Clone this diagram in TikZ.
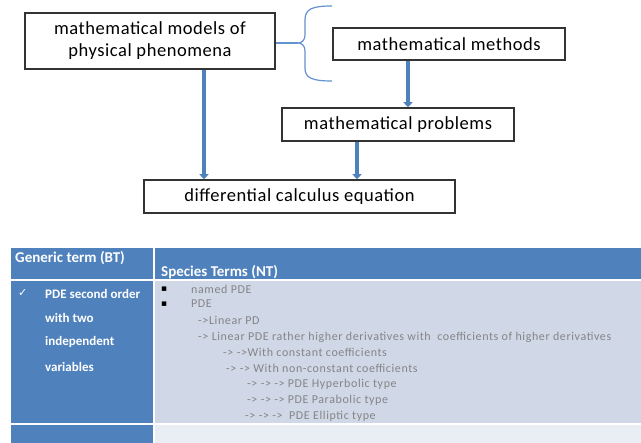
\documentclass[tikz,border=0pt]{standalone}
\usepackage{fontspec}
\setmainfont{Carlito}
\newfontfamily\boxfont[LetterSpace=3]{Carlito}
\newfontfamily\termfont[LetterSpace=5]{Carlito}
\newfontfamily\symfont{DejaVu Sans}
\usetikzlibrary{arrows.meta}
\definecolor{linkblue}{RGB}{79,129,189}
\definecolor{bracecol}{RGB}{98,146,208}
\definecolor{cellblue}{RGB}{79,129,189}
\definecolor{cellgrey}{RGB}{208,216,232}
\definecolor{cellpale}{RGB}{233,237,244}
\definecolor{termgrey}{RGB}{132,132,132}

\begin{document}
\begin{tikzpicture}[x=1pt,y=-1pt,
    concept/.style={draw=black!80,line width=1.5pt,fill=white,inner sep=0pt,align=center,font=\boxfont\fontsize{18.5}{22}\selectfont},
    link/.style={linkblue,line width=3.5pt,-{Triangle[width=9pt,length=5pt]}},
    brace/.style={bracecol,line width=1.2pt},
    head/.style={anchor=west,inner sep=0pt,text=white,font=\bfseries\fontsize{15}{17}\selectfont},
    bterm/.style={anchor=west,inner sep=0pt,text=white,font=\bfseries\fontsize{13}{15}\selectfont},
    nterm/.style={anchor=west,inner sep=0pt,text=termgrey,font=\termfont\fontsize{12}{14}\selectfont}]
    \useasboundingbox (0,0) rectangle (641,443);

    % concept boxes
    \node[concept,minimum width=250pt,minimum height=56pt] (models) at (150,41) {mathematical models of\\physical phenomena};
    \node[concept,minimum width=232pt,minimum height=32pt] (methods) at (449,44) {mathematical methods};
    \node[concept,minimum width=232pt,minimum height=33pt] (problems) at (398,124.5) {mathematical problems};
    \node[concept,minimum width=311pt,minimum height=33pt] (equation) at (299.5,196.5) {differential calculus equation};

    % brace
    \coordinate (tip) at (298,43);
    \draw[brace] (models.east |- tip) -- (tip);
    \draw[brace] (332,6) .. controls (312,6) and (305,9) .. (305,20) -- (305,35)
        .. controls (305,40) and (302,43) .. (tip)
        .. controls (302,43) and (305,46) .. (305,51) -- (305,68)
        .. controls (305,78) and (312,81) .. (332,81);

    % links
    \draw[link] (models.south -| 204,0) -- (equation.north -| 204,0);
    \draw[link] (methods.south -| 408,0) -- (problems.north -| 408,0);
    \draw[link] (problems.south -| 357,0) -- (equation.north -| 357,0);

    % table
    \fill[cellblue] (11,248) rectangle (641,279);
    \fill[cellblue] (11,281) rectangle (153,423);
    \fill[cellgrey] (155,281) rectangle (641,423);
    \fill[cellblue] (11,425) rectangle (153,443);
    \fill[cellpale] (155,425) rectangle (641,443);
    \draw[white,line width=1.5pt] (154,248) -- (154,443);

    \node[head] (bt) at (15,258) {Generic term (BT)};
    \node[head] (nt) at (161,272) {Species Terms (NT)};
    \node[bterm,font=\symfont\fontsize{11}{13}\selectfont] (check) at (18,293) {✓};
    \foreach \ty/\txt [count=\i] in {294/PDE second order, 318/with two, 342/independent, 367/variables}
        \node[bterm] (bt\i) at (45,\ty) {\txt};
    \foreach \ty [count=\i] in {289,304}
        \node[anchor=west,inner sep=0pt,font=\symfont\fontsize{9}{11}\selectfont] (dot\i) at (161,\ty) {▪};
    \foreach \tx/\ty/\txt [count=\i] in {191/289/named PDE, 191/304/PDE, 198/320/->Linear PD,
        198/337/-> Linear PDE rather higher derivatives with \ coefficients of higher derivatives,
        223/352/-> ->With constant coefficients, 226/368/-> -> With non-constant coefficients,
        247/384/-> -> -> PDE Hyperbolic type, 247/400/-> -> -> PDE Parabolic type,
        245/416/-> -> -> \ PDE Elliptic type}
        \node[nterm] (nt\i) at (\tx,\ty) {\txt};
\end{tikzpicture}
\end{document}
